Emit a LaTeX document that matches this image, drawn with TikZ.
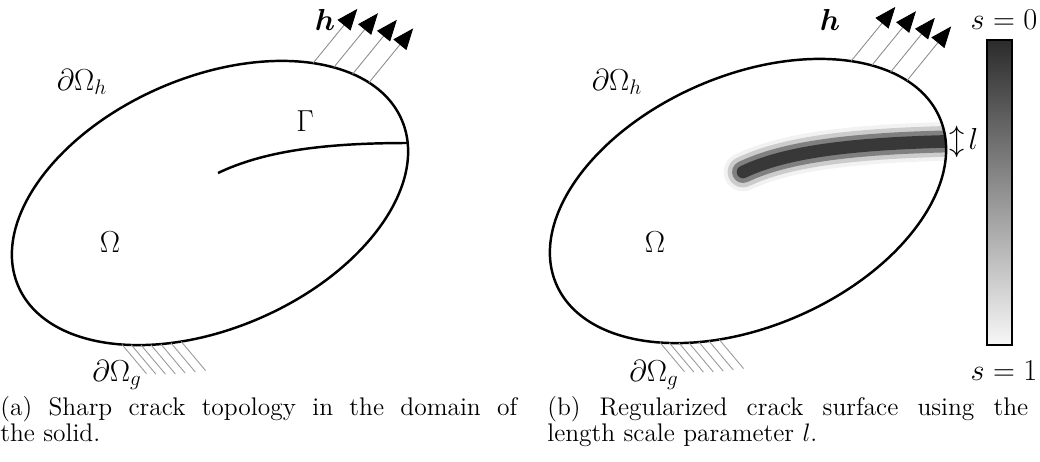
\documentclass[tikz,border=0pt]{standalone}
\usepackage{amsmath}
\usetikzlibrary{arrows.meta,calc}
\begin{document}
\begin{tikzpicture}[x=0.02cm, y=0.02cm]
  \tikzstyle{bd}=[line width=1.4pt]
  \tikzstyle{load}=[draw=black!45, line width=0.5pt, -{Triangle[length=12pt, width=9.5pt, color=black]}]
  \tikzstyle{hatch}=[draw=black!40, line width=0.5pt]
  \tikzstyle{lab}=[font=\fontsize{17}{20}\selectfont, inner sep=0pt]
  \tikzstyle{capt}=[font=\fontsize{14.5}{14.8}\selectfont, inner sep=0pt, align=justify, anchor=north west]

  \useasboundingbox (0,0) rectangle (1040,461);

  % regularized crack band, cut at the boundary
  \begin{scope}
    \clip[shift={(748,260)}, rotate=23.5] (0,0) ellipse [x radius=209, y radius=125.5];
    \foreach \w/\c in {22pt/black!5, 17.5pt/black!20, 12.5pt/black!50, 7.2pt/black!78} {
      \draw[line width=\w, \c, line cap=round] (743,289) .. controls (785,309) and (850,318) .. (965,320);
    }
  \end{scope}

  % both domains with loads and supports
  \foreach \cx/\cy/\p in {210/258/a, 748/260/b} {
    \begin{scope}[shift={(\cx,\cy)}, rotate=23.5]
      \draw[bd] (0,0) ellipse [x radius=209, y radius=125.5];
      \foreach \t [count=\i] in {44,36.7,29.3,22} {
        \coordinate (h\p\i) at ({209*cos(\t)},{125.5*sin(\t)});
        \coordinate (t\p\i) at ($(h\p\i)+(27.3:70)$);
        \draw[load] (h\p\i) -- (t\p\i);
      }
      \foreach \t in {229,232,...,247} {
        \draw[hatch] ({209*cos(\t)},{125.5*sin(\t)}) -- ++(-73.5:38);
      }
    \end{scope}
  }

  % sharp crack
  \coordinate (tipA) at (218,288);
  \coordinate (endA) at (408,318);
  \draw[bd] (tipA) .. controls (262,309) and (320,318) .. (endA);

  % labels left
  \node[lab] (hA) at (325,441) {$\boldsymbol{h}$};
  \node[lab] (dhA) at (82,379) {$\partial\Omega_h$};
  \node[lab] (gam) at (305,340) {$\Gamma$};
  \node[lab] (omA) at (110,219) {$\Omega$};
  \node[lab] (dgA) at (117,86) {$\partial\Omega_g$};

  % labels right
  \node[lab] (hB) at (830,441) {$\boldsymbol{h}$};
  \node[lab] (dhB) at (617,379) {$\partial\Omega_h$};
  \node[lab] (omB) at (655,219) {$\Omega$};
  \node[lab] (dgB) at (654,86) {$\partial\Omega_g$};
  \node[lab] (len) at (964,319) {$\updownarrow\! l$};

  % phase field scale
  \node[draw, line width=1.2pt, minimum width=0.5cm, minimum height=6.1cm, inner sep=0pt,
        top color=black!83, bottom color=black!3] (bar) at (999.5,268.5) {};
  \node[lab] (s0) at (1004,441) {$s=0$};
  \node[lab] (s1) at (1004,90) {$s=1$};

  % captions
  \node[capt, text width=10.34cm] (capA) at (0,65)
    {(a) Sharp crack topology in the domain of\linebreak the solid.};
  \node[capt, text width=9.62cm] (capB) at (547,65)
    {(b) Regularized crack surface using the\linebreak length scale parameter $l$.};
\end{tikzpicture}
\end{document}
